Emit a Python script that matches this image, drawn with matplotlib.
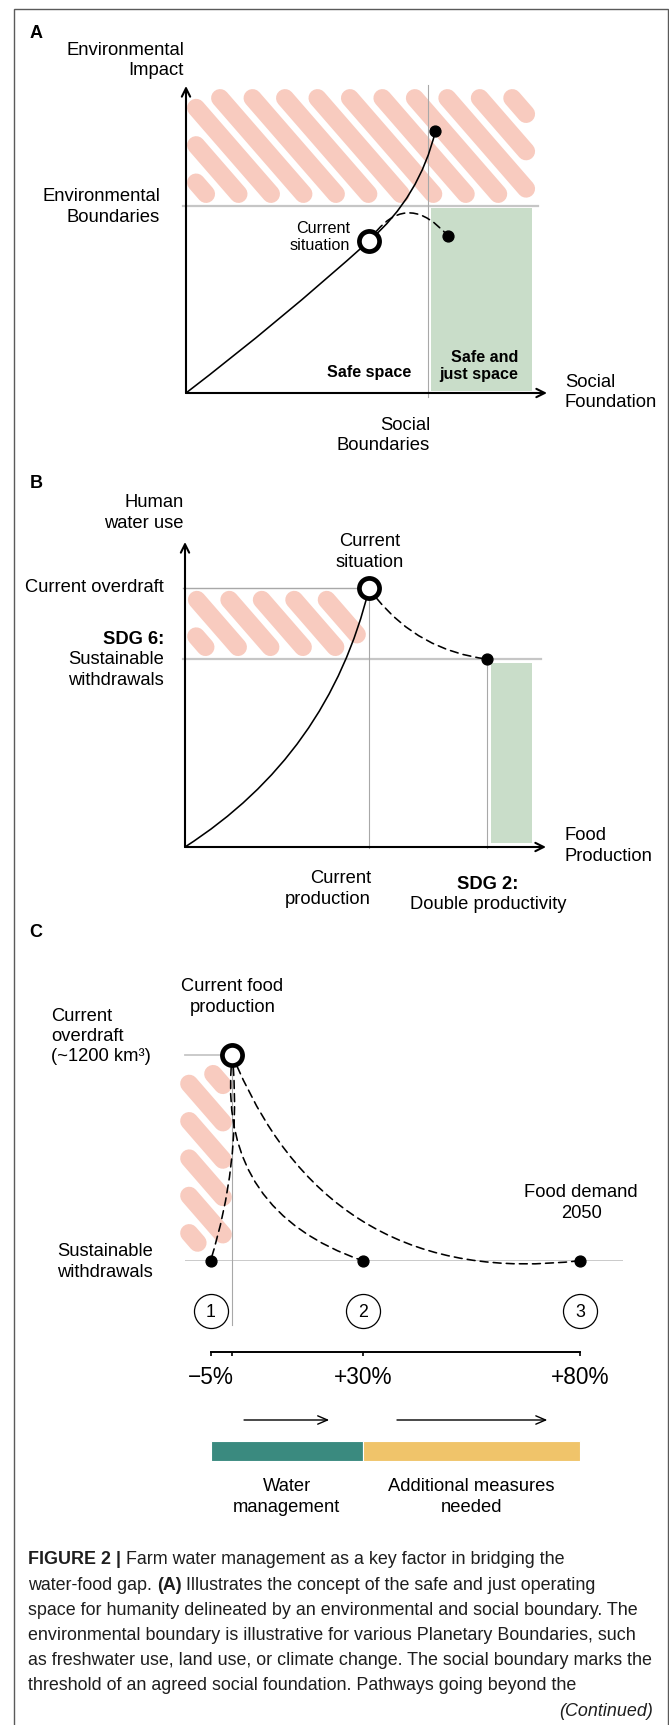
import numpy as np
import matplotlib
matplotlib.use('Agg')
import matplotlib.pyplot as plt
from matplotlib.patches import FancyArrowPatch, Rectangle

W, H, DPI = 669, 1725, 100
FONT = ['Liberation Sans', 'DejaVu Sans']
plt.rcParams['font.family'] = FONT

# ------------------------------------------------------------------ data
# Panel A  (conceptual units, 0..1 on both axes)
A_env_boundary = 0.61
A_social_boundary = 0.67
A_current = (0.507, 0.495)
A_overshoot = (0.691, 0.854)
A_safe_just = (0.726, 0.511)
A_hatch_x = (0.003, 0.967)
A_hatch_y = (0.619, 0.990)
A_green_x = (0.679, 0.958)
A_green_y = (0.007, 0.603)

# Panel B  (conceptual units, 0..1)
B_current = (0.510, 0.848)      # current production, current overdraft
B_sdg6 = 0.616                  # sustainable withdrawals
B_sdg2 = 0.837                  # double productivity
B_hatch_x = (0.006, 0.501)
B_hatch_y = (0.626, 0.840)
B_green_x = (0.847, 0.961)
B_green_y = (0.013, 0.604)

# Panel C  (change in food production [%], overdraft [km3])
C_overdraft = 1200
C_sustainable = 0
C_current_pct = 0
C_pathway_pct = [-5, 30, 80]
C_pathway_labels = ['1', '2', '3']
C_pathway_rad = [-0.10, 0.40, 0.38]
C_tick_pct = [-5, 0, 30, 80]
C_tick_labels = ['\u22125%', '', '+30%', '+80%']
C_segments = [(-5, 30), (30, 80)]
C_segment_colors = ['#3a8a7f', '#f0c46a']
C_segment_labels = ['Water\nmanagement', 'Additional measures\nneeded']
C_arrows = [(2.7, 22.3), (37.9, 72.5)]
C_hatch_x = (-12.0, -0.1)
C_hatch_y = (52, 1142)
C_vline_bottom = -375

CAPTION = [
    [("FIGURE 2 |", 'bold'), ("Farm water management as a key factor in bridging the", 'normal')],
    [("water-food gap.", 'normal'), ("(A)", 'bold'),
     ("Illustrates the concept of the safe and just operating", 'normal')],
    [("space for humanity delineated by an environmental and social boundary. The", 'normal')],
    [("environmental boundary is illustrative for various Planetary Boundaries, such", 'normal')],
    [("as freshwater use, land use, or climate change. The social boundary marks the", 'normal')],
    [("threshold of an agreed social foundation. Pathways going beyond the", 'normal')],
]

# ------------------------------------------------------------------ style
HATCH_COLOR = '#f8cbbf'
GREEN = '#c9ddc9'
GRAY_THICK = '#c6c6c6'
GRAY_THIN = '#a8a8a8'
HATCH_W = 18.0       # px
HATCH_PITCH = 24.5   # px, perpendicular
HATCH_ANGLE = 49.0   # degrees below horizontal
LS = 1.25
FS_A = 13.3
FS_B = 13.2

fig = plt.figure(figsize=(W / DPI, H / DPI), dpi=DPI)
fig.patch.set_facecolor('white')


def axes_px(left, right, top, bottom, xlim, ylim, off=True):
    ax = fig.add_axes([left / W, 1 - bottom / H, (right - left) / W, (bottom - top) / H])
    ax.set_xlim(*xlim)
    ax.set_ylim(*ylim)
    if off:
        ax.set_axis_off()
    return ax


def ftext(x, y, s, **kw):
    kw.setdefault('fontsize', FS_A)
    kw.setdefault('linespacing', LS)
    return fig.text(x / W, 1 - y / H, s, **kw)


def hatch(ax, xr, yr, phase):
    (X0, Y0) = ax.transData.transform((xr[0], yr[0]))
    (X1, Y1) = ax.transData.transform((xr[1], yr[1]))
    xa, xb = sorted([X0, X1])
    ya, yb = sorted([Y0, Y1])
    r = HATCH_W / 2
    ia, ib, ja, jb = xa + r, xb - r, ya + r, yb - r
    a = np.radians(HATCH_ANGLE)
    d = np.array([np.cos(a), -np.sin(a)])
    n = np.array([np.sin(a), np.cos(a)])
    anchor = np.array([xa + phase[0], yb - phase[1]])
    c0 = n @ anchor
    cs = [n @ np.array(p) for p in [(ia, ja), (ia, jb), (ib, ja), (ib, jb)]]
    k0 = int(np.floor((min(cs) - c0) / HATCH_PITCH)) - 1
    k1 = int(np.ceil((max(cs) - c0) / HATCH_PITCH)) + 1
    inv = ax.transData.inverted()
    for k in range(k0, k1 + 1):
        c = c0 + k * HATCH_PITCH
        p0 = n * c
        tmin, tmax = -1e9, 1e9
        for comp, lo, hi in [(0, ia, ib), (1, ja, jb)]:
            t1 = (lo - p0[comp]) / d[comp]
            t2 = (hi - p0[comp]) / d[comp]
            tmin = max(tmin, min(t1, t2))
            tmax = min(tmax, max(t1, t2))
        if tmax < tmin:
            continue
        pa = inv.transform(p0 + tmin * d)
        pb = inv.transform(p0 + tmax * d)
        ax.plot([pa[0], pb[0]], [pa[1], pb[1]], color=HATCH_COLOR,
                lw=HATCH_W * 72 / DPI, solid_capstyle='round', clip_on=False, zorder=1)


def arc(ax, p0, p1, rad, dashed=False, shrinkA=0, shrinkB=0, lw=1.15):
    ls = (0, (5, 3.2)) if dashed else '-'
    pa = FancyArrowPatch(p0, p1, connectionstyle=f'arc3,rad={rad}', arrowstyle='-',
                         lw=lw, color='black', linestyle=ls, shrinkA=shrinkA,
                         shrinkB=shrinkB, clip_on=False, zorder=4)
    ax.add_patch(pa)


def axis_arrow(ax, start, end):
    ax.annotate('', xy=end, xytext=start,
                arrowprops=dict(arrowstyle='->,head_length=0.6,head_width=0.3',
                                lw=1.5, color='black', shrinkA=0, shrinkB=0),
                annotation_clip=False, zorder=5)


def big_circle(ax, p):
    ax.plot([p[0]], [p[1]], 'o', ms=14.5, mfc='white', mec='black', mew=3.4,
            zorder=7, clip_on=False)


def dot(ax, p):
    ax.plot([p[0]], [p[1]], 'o', ms=7.8, color='black', zorder=7, clip_on=False)


# ------------------------------------------------------------------ frame
fig.patches.append(Rectangle((14 / W, -0.01), (667.5 - 14) / W, 1.01 - 9 / H,
                             transform=fig.transFigure, fill=False,
                             ec='#5a5a5a', lw=1.0))

# ================================================================== Panel A
axA = axes_px(186, 547, 86, 393, (0, 1), (0, 1))
axA.add_patch(Rectangle((A_green_x[0], A_green_y[0]), A_green_x[1] - A_green_x[0],
                        A_green_y[1] - A_green_y[0], color=GREEN, lw=0, zorder=0.5))
hatch(axA, A_hatch_x, A_hatch_y, (33, 9))
axA.plot([-0.008, 0.975], [A_env_boundary] * 2, color=GRAY_THICK, lw=1.6,
         clip_on=False, zorder=2)
axA.plot([A_social_boundary] * 2, [-0.013, 1.003], color=GRAY_THIN, lw=0.8,
         clip_on=False, zorder=2)
axis_arrow(axA, (0, 0), (1, 0))
axis_arrow(axA, (0, 0), (0, 1))
arc(axA, (0, 0), A_current, 0.02)
arc(axA, A_current, A_overshoot, 0.16)
arc(axA, A_current, A_safe_just, -0.65, dashed=True, shrinkA=9)
big_circle(axA, A_current)
dot(axA, A_overshoot)
dot(axA, A_safe_just)

ftext(36, 34, 'A', fontsize=13, fontweight='bold', ha='center', va='center')
ftext(184, 60.5, 'Environmental\nImpact', ha='right', va='center', multialignment='right')
ftext(160, 207, 'Environmental\nBoundaries', ha='right', va='center', multialignment='right')
ftext(350, 237, 'Current\nsituation', ha='right', va='center', multialignment='right',
      fontsize=11.6, linespacing=1.2)
ftext(369.5, 373, 'Safe space', ha='center', va='center', fontsize=11.6, fontweight='bold')
ftext(518, 366, 'Safe and\njust space', ha='right', va='center', multialignment='right',
      fontsize=11.6, fontweight='bold', linespacing=1.2)
ftext(565, 392.5, 'Social\nFoundation', ha='left', va='center')
ftext(430, 435.5, 'Social\nBoundaries', ha='right', va='center', multialignment='right')

# ================================================================== Panel B
axB = axes_px(185, 546, 542, 847, (0, 1), (0, 1))
axB.add_patch(Rectangle((B_green_x[0], B_green_y[0]), B_green_x[1] - B_green_x[0],
                        B_green_y[1] - B_green_y[0], color=GREEN, lw=0, zorder=0.5))
hatch(axB, B_hatch_x, B_hatch_y, (9.7, 9))
axB.plot([-0.006, B_current[0]], [B_current[1]] * 2, color=GRAY_THIN, lw=1.0,
         clip_on=False, zorder=2)
axB.plot([-0.006, 0.986], [B_sdg6] * 2, color=GRAY_THICK, lw=1.6, clip_on=False, zorder=2)
axB.plot([B_current[0]] * 2, [-0.004, B_current[1]], color=GRAY_THIN, lw=0.8,
         clip_on=False, zorder=2)
axB.plot([B_sdg2] * 2, [-0.004, B_sdg6], color=GRAY_THIN, lw=0.8, clip_on=False, zorder=2)
axis_arrow(axB, (0, 0), (1, 0))
axis_arrow(axB, (0, 0), (0, 1))
arc(axB, (0, 0), B_current, 0.2)
arc(axB, B_current, (B_sdg2, B_sdg6), 0.22, dashed=True, shrinkA=9)
big_circle(axB, B_current)
dot(axB, (B_sdg2, B_sdg6))

ftext(36, 483, 'B', fontsize=13, fontweight='bold', ha='center', va='center')
ftext(184, 513, 'Human\nwater use', ha='right', va='center', multialignment='right', fontsize=FS_B)
ftext(369.5, 552, 'Current\nsituation', ha='center', va='center', fontsize=FS_B)
ftext(164, 588, 'Current overdraft', ha='right', va='center', fontsize=FS_B)
ftext(164, 640, 'SDG 6:', ha='right', va='center', fontsize=FS_B, fontweight='bold')
ftext(164, 670, 'Sustainable\nwithdrawals', ha='right', va='center', multialignment='right',
      fontsize=FS_B)
ftext(565, 846, 'Food\nProduction', ha='left', va='center', fontsize=FS_B)
ftext(371, 889, 'Current\nproduction', ha='right', va='center', multialignment='right',
      fontsize=FS_B)
ftext(488, 884, 'SDG 2:', ha='center', va='center', fontsize=FS_B, fontweight='bold')
ftext(488, 904, 'Double productivity', ha='center', va='center', fontsize=FS_B)

# ================================================================== Panel C
C_PX0, C_PXPCT = 232.3, 4.345
C_XLIM = (-11, 90)
cl, cr = C_PX0 + C_PXPCT * C_XLIM[0], C_PX0 + C_PXPCT * C_XLIM[1]
axC = axes_px(cl, cr, 1055, 1260.7, C_XLIM, (C_sustainable, C_overdraft))
hatch(axC, C_hatch_x, C_hatch_y, (33, 9))
axC.plot([C_XLIM[0], C_current_pct], [C_overdraft] * 2, color=GRAY_THICK, lw=1.3,
         clip_on=False, zorder=2)
axC.axhline(C_sustainable, color=GRAY_THICK, lw=1.3, zorder=2)
axC.plot([C_current_pct] * 2, [C_vline_bottom, C_overdraft], color=GRAY_THIN, lw=0.8,
         clip_on=False, zorder=2)
for pct, rad in zip(C_pathway_pct, C_pathway_rad):
    arc(axC, (C_current_pct, C_overdraft), (pct, C_sustainable), rad, dashed=True, shrinkA=9)
    dot(axC, (pct, C_sustainable))
big_circle(axC, (C_current_pct, C_overdraft))

ftext(36, 933, 'C', fontsize=13, fontweight='bold', ha='center', va='center')
ftext(232.5, 997, 'Current food\nproduction', ha='center', va='center', fontsize=FS_B)
ftext(51, 1036.5, 'Current\noverdraft\n(~1200 km\u00b3)', ha='left', va='center', fontsize=FS_B,
      linespacing=1.2)
ftext(153, 1262, 'Sustainable\nwithdrawals', ha='right', va='center', multialignment='right',
      fontsize=FS_B)
ftext(581, 1203, 'Food demand\n2050', ha='center', va='center', fontsize=FS_B)

# scale axis with numbered pathways
axS = axes_px(cl, cr, 1280, 1351.5, C_XLIM, (0, 1), off=False)
axS.patch.set_visible(False)
for s in ['top', 'left', 'right']:
    axS.spines[s].set_visible(False)
axS.spines['bottom'].set_bounds(C_tick_pct[0], C_tick_pct[-1])
axS.spines['bottom'].set_linewidth(1.4)
axS.set_yticks([])
axS.set_xticks(C_tick_pct)
axS.set_xticklabels(C_tick_labels, fontsize=16.3)
axS.tick_params(axis='x', direction='out', length=3.2, width=1.2, pad=7.5)
trS = axS.get_xaxis_transform()
for pct, lab in zip(C_pathway_pct, C_pathway_labels):
    axS.plot([pct], [0.573], 'o', ms=24.5, mfc='white', mec='black', mew=0.9,
             transform=trS, clip_on=False, zorder=5)
    axS.text(pct, 0.573, lab, transform=trS, ha='center', va='center_baseline',
             fontsize=12.8, zorder=6)

# bars for measures
axBar = axes_px(cl, cr, 1441, 1461, C_XLIM, (0, 1))
trB = axBar.get_xaxis_transform()
for (s0, s1), col, lab in zip(C_segments, C_segment_colors, C_segment_labels):
    axBar.barh(0.5, s1 - s0, left=s0, height=1.0, color=col, edgecolor='white', lw=0.8)
    axBar.text((s0 + s1) / 2, -1.8, lab, transform=trB, ha='center', va='center',
               fontsize=FS_B, linespacing=LS)
for a0, a1 in C_arrows:
    axBar.annotate('', xy=(a1, 2.05), xytext=(a0, 2.05), xycoords=trB, textcoords=trB,
                   arrowprops=dict(arrowstyle='->,head_length=0.7,head_width=0.3',
                                   lw=1.0, color='black', shrinkA=0, shrinkB=0),
                   annotation_clip=False)

# ================================================================== caption
renderer = fig.canvas.get_renderer()


def text_w(s, size, weight='normal', style='normal'):
    t = fig.text(0, 0, s, fontsize=size, fontweight=weight, fontstyle=style)
    w = t.get_window_extent(renderer).width
    t.remove()
    return w


def line_w(runs, size):
    sp = text_w('a a', size) - text_w('aa', size)
    return sum(text_w(s, size, w) for s, w in runs) + sp * (len(runs) - 1)


base = 12.0
scale = 625.0 / line_w(CAPTION[4], base)
cap_size = base * scale
space_w = text_w('a a', cap_size) - text_w('aa', cap_size)
CAP_X0 = 28
for i, runs in enumerate(CAPTION):
    x = CAP_X0
    y = 1560 + 25.1 * i
    for s, wt in runs:
        ftext(x, y, s, fontsize=cap_size, fontweight=wt, ha='left', va='center',
              color='#1e1e1e')
        x += text_w(s, cap_size, wt) + space_w
ftext(653, 1711, '(Continued)', fontsize=cap_size, fontstyle='italic', ha='right',
      va='center', color='#1e1e1e')

fig.savefig('out.png', dpi=DPI)
